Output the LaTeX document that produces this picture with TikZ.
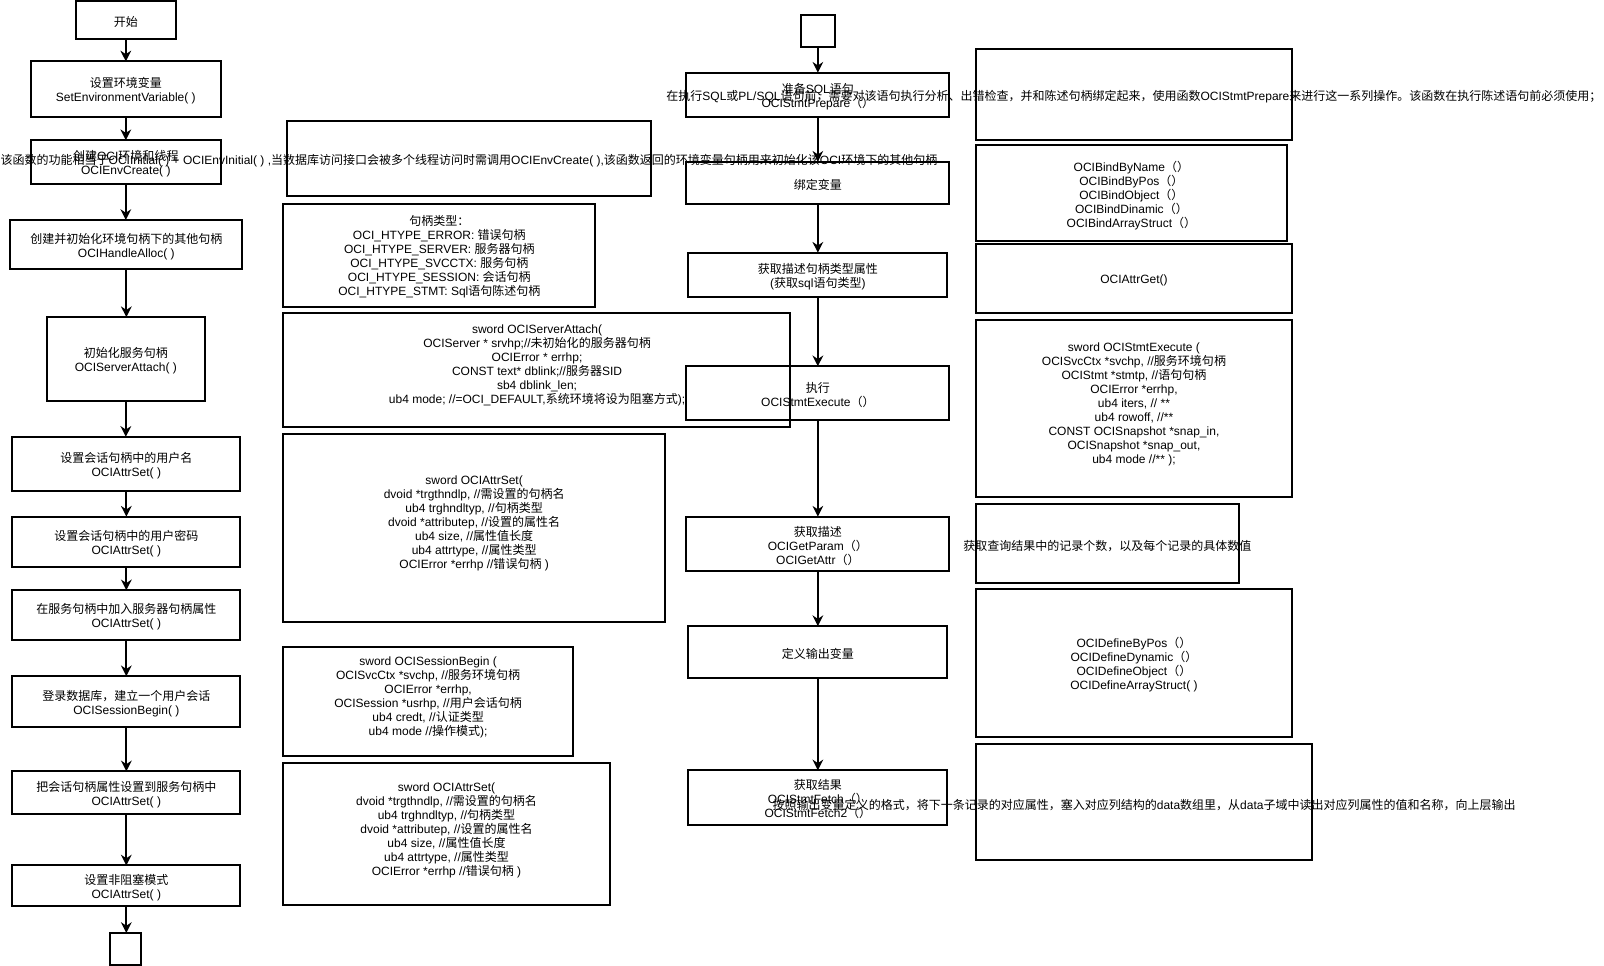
\documentclass[tikz,border=0pt]{standalone}
\usepackage{fontspec}
\setmainfont{Liberation Sans}
\newfontfamily\cjkfont{Noto Sans CJK SC}
\newfontfamily\latinfont{Liberation Sans}
\usetikzlibrary{arrows.meta}
\newcount\cjkcnt
\newXeTeXintercharclass\cjkcls
\newcommand\setcjkrange[2]{\cjkcnt=#1\relax\loop\XeTeXcharclass\cjkcnt=\cjkcls\advance\cjkcnt by 1\relax\ifnum\cjkcnt<#2\relax\repeat}
\setcjkrange{"3000}{"3040}
\setcjkrange{"4E00}{"A000}
\setcjkrange{"FF00}{"FFF0}
\XeTeXinterchartoks 0 \cjkcls = {\cjkfont}
\XeTeXinterchartoks 4095 \cjkcls = {\cjkfont}
\XeTeXinterchartoks \cjkcls 0 = {\latinfont}
\XeTeXinterchartoks \cjkcls 4095 = {\latinfont}
\XeTeXinterchartokenstate=1
% box with text (text slightly lowered, as in the reference)
\newcommand\bx[7][]{\node[box,#1,minimum width={(#5-#3)*0.767pt},minimum height={(#6-#4)*0.767pt}] (#2) at ({(#3+#5)/2},{(#4+#6)/2}) {};
  \node[txt] (#2t) at ({(#3+#5)/2},{(#4+#6)/2+1.8}) {#7};}
% empty box
\newcommand\ebx[5]{\node[box,minimum width={(#4-#2)*0.767pt},minimum height={(#5-#3)*0.767pt}] (#1) at ({(#2+#4)/2},{(#3+#5)/2}) {};}
\begin{document}
\begin{tikzpicture}[x=0.767pt,y=-0.767pt,font=\fontsize{9}{10.5}\selectfont,
  box/.style={draw,line width=1.5pt,inner sep=0pt,outer sep=0pt},
  txt/.style={align=center,inner sep=0pt},
  arr/.style={line width=1.5pt,-{Stealth[length=8pt,width=8pt,inset=2.6pt]}}]
\useasboundingbox (0,0) rectangle (1568,944);
% left flow
\bx{start}{74}{1}{172}{38}{开始}
\bx{env}{30}{60}{216}{114}{设置环境变量\\SetEnvironmentVariable( )}
\bx{create}{30}{137}{216}{180}{创建OCI环境和线程\\OCIEnvCreate( )}
\bx{alloc}{10}{215}{237}{263}{创建并初始化环境句柄下的其他句柄\\OCIHandleAlloc( )}
\bx{srv}{46}{310}{200}{392}{初始化服务句柄\\OCIServerAttach( )}
\bx{user}{12}{427}{235}{480}{设置会话句柄中的用户名\\OCIAttrSet( )}
\bx{pwd}{12}{505}{235}{554}{设置会话句柄中的用户密码\\OCIAttrSet( )}
\bx{addsrv}{12}{577}{235}{626}{在服务句柄中加入服务器句柄属性\\OCIAttrSet( )}
\bx{login}{12}{661}{235}{711}{登录数据库，建立一个用户会话\\OCISessionBegin( )}
\bx{setsess}{12}{754}{235}{796}{把会话句柄属性设置到服务句柄中\\OCIAttrSet( )}
\bx{nonblk}{12}{846}{235}{886}{设置非阻塞模式\\OCIAttrSet( )}
\ebx{lend}{108}{912}{138}{943}
% middle description boxes
\ebx{ma}{281}{118}{636}{192}
\bx{mb}{277}{199}{582}{300}{句柄类型：\\OCI\_HTYPE\_ERROR: 错误句柄\\OCI\_HTYPE\_SERVER: 服务器句柄\\OCI\_HTYPE\_SVCCTX: 服务句柄\\OCI\_HTYPE\_SESSION: 会话句柄\\OCI\_HTYPE\_STMT: Sql语句陈述句柄}
\ebx{mc}{277}{306}{772}{417}
\ebx{md}{277}{424}{650}{608}
\ebx{me}{277}{632}{560}{739}
\ebx{mf}{277}{746}{596}{885}
% right flow
\ebx{rs}{783}{15}{816}{46}
\bx{prep}{671}{71}{928}{114}{准备SQL语句\\OCIStmtPrepare（）}
\bx{bind}{671}{158}{928}{199}{绑定变量}
\bx{desc}{673}{247}{926}{290}{获取描述句柄类型属性\\(获取sql语句类型)}
\bx{exec}{671}{358}{928}{411}{执行\\OCIStmtExecute（）}
\bx{param}{671}{505}{928}{558}{获取描述\\OCIGetParam（）\\OCIGetAttr（）}
\bx{def}{673}{612}{926}{663}{定义输出变量}
\bx{fetch}{673}{753}{926}{806}{获取结果\\OCIStmtFetch（）\\OCIStmtFetch2（）}
% right description boxes
\ebx{sa}{954}{48}{1263}{137}
\bx{sb}{954}{142}{1258}{236}{OCIBindByName（）\\OCIBindByPos（）\\OCIBindObject（）\\OCIBindDinamic（）\\OCIBindArrayStruct（）}
\bx{sc}{954}{239}{1263}{306}{OCIAttrGet()}
\ebx{sd}{954}{313}{1263}{486}
\ebx{se}{954}{493}{1211}{570}
\bx{sf}{954}{576}{1263}{720}{OCIDefineByPos（）\\OCIDefineDynamic（）\\OCIDefineObject（）\\OCIDefineArrayStruct( )}
\ebx{sg}{954}{727}{1283}{841}
% arrows
\foreach \a/\b in {start/env,env/create,create/alloc,alloc/srv,srv/user,user/pwd,pwd/addsrv,addsrv/login,login/setsess,setsess/nonblk,nonblk/lend,rs/prep,prep/bind,bind/desc,desc/exec,exec/param,param/def,def/fetch}
  \draw[arr] (\a.south) -- (\a.south |- \b.north);
% texts
\node[txt] (mct) at (525,357) {sword OCIServerAttach(\\OCIServer * srvhp;//未初始化的服务器句柄\\OCIError * errhp;\\CONST text* dblink;//服务器SID\\sb4 dblink\_len;\\ub4 mode; //=OCI\_DEFAULT,系统环境将设为阻塞方式);};
\node[txt] (mdt) at (463.5,512) {sword OCIAttrSet(\\dvoid *trgthndlp, //需设置的句柄名\\ub4 trghndltyp, //句柄类型\\dvoid *attributep, //设置的属性名\\ub4 size, //属性值长度\\ub4 attrtype, //属性类型\\OCIError *errhp //错误句柄 )};
\node[txt] (met) at (418.5,682) {sword OCISessionBegin (\\OCISvcCtx *svchp, //服务环境句柄\\OCIError *errhp,\\OCISession *usrhp, //用户会话句柄\\ub4 credt, //认证类型\\ub4 mode //操作模式);};
\node[txt] (mft) at (436.5,812) {sword OCIAttrSet(\\dvoid *trgthndlp, //需设置的句柄名\\ub4 trghndltyp, //句柄类型\\dvoid *attributep, //设置的属性名\\ub4 size, //属性值长度\\ub4 attrtype, //属性类型\\OCIError *errhp //错误句柄 )};
\node[txt] (sdt) at (1108.5,395.3) {sword OCIStmtExecute (\\OCISvcCtx *svchp, //服务环境句柄\\OCIStmt *stmtp, //语句句柄\\OCIError *errhp,\\ub4 iters, // **\\ub4 rowoff, //**\\CONST OCISnapshot *snap\_in,\\OCISnapshot *snap\_out,\\ub4 mode //** );};
\node[txt] (mat) at (458.5,156.8) {该函数的功能相当于OCIInitial( ) + OCIEnvInitial( ) ,当数据库访问接口会被多个线程访问时需调用OCIEnvCreate( ),该函数返回的环境变量句柄用来初始化该OCI环境下的其他句柄};
\node[txt] (sat) at (1108.5,94.8) {在执行SQL或PL/SQL语句前，需要对该语句执行分析、出错检查，并和陈述句柄绑定起来，使用函数OCIStmtPrepare来进行这一系列操作。该函数在执行陈述语句前必须使用；};
\node[txt] (set) at (1082.5,533.8) {获取查询结果中的记录个数，以及每个记录的具体数值};
\node[txt] (sgt) at (1118.5,786.8) {按照输出变量定义的格式，将下一条记录的对应属性，塞入对应列结构的data数组里，从data子域中读出对应列属性的值和名称，向上层输出};
\end{tikzpicture}
\end{document}
